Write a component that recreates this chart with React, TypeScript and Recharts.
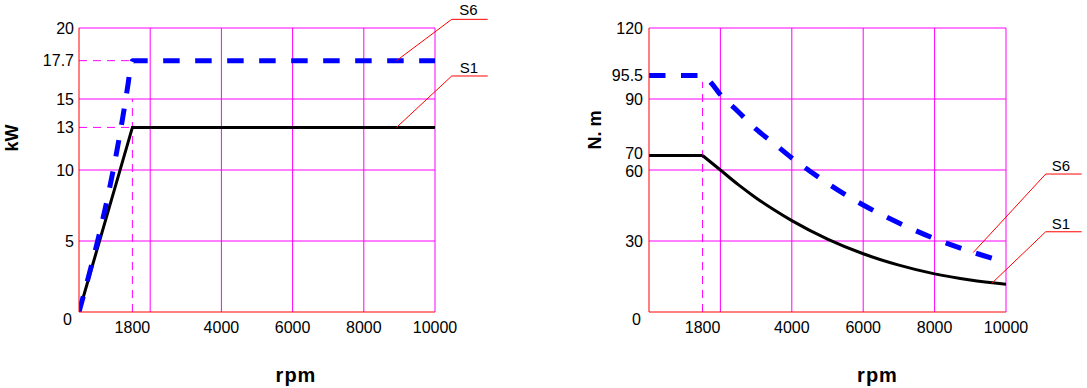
import React from 'react';
import { LineChart, Line, XAxis, YAxis, ReferenceLine, ReferenceDot } from 'recharts';

// ---------- data ----------
const rpmTicks = [1800, 4000, 6000, 8000, 10000];
const rpmGrid = [2000, 4000, 6000, 8000, 10000];

const powerTicks = [0, 5, 10, 13, 15, 17.7, 20];
const powerGrid = [5, 10, 15, 20];
const torqueTicks = [0, 30, 60, 70, 90, 95.5, 120];
const torqueGrid = [30, 60, 90, 120];

const powerS1Rpm = [0, 1800, 10000];
const powerS1Kw = [0, 13, 13];
const powerS6Rpm = [0, 1650, 1750, 1800, 10000];
const powerS6Kw = [0, 16, 17.4, 17.7, 17.7];

const torqueS1Rpm = [0, 1800, 2000, 2500, 3000, 3500, 4000, 5000, 6000, 7000, 8000, 9000, 10000];
const torqueS1Nm = [70, 70, 60, 53.8, 48.2, 43.2, 38.6, 30.8, 24.6, 19.8, 16.1, 13.5, 11.7];
const torqueS6Rpm = [0, 1800, 1900, 2000, 2500, 3000, 3500, 4000, 4500, 5000, 6000, 7000, 8000, 9000, 10000];
const torqueS6Nm = [95.5, 95.5, 93.7, 91, 85.5, 79.3, 74.3, 68.3, 59.6, 54.4, 45.2, 37.6, 31, 25.6, 21];

// axis break points (the reference axes are drawn piecewise)
const rpmBreaks = [0, 1800, 2000, 10000];
const rpmFracs = [0, 0.15, 0.2, 1];
const torqueBreaks = [0, 30, 60, 70, 90, 95.5, 120];
const torqueFracs = [0, 0.25, 0.5, 0.551, 0.75, 0.8327, 1];

// small per-label nudges of y tick texts (pixels), as placed in the reference
const tickNudge: Record<string, [number, number]> = {
  '0': [-2, 7],
  '70': [0, -2],
  '60': [0, 1],
};

const rows = (xs: number[], ys: number[]) => xs.map((x, i) => ({ x, y: ys[i] }));

// ---------- piecewise-linear d3-like scale ----------
function piecewiseScale(breaks: number[], fracs: number[]): any {
  let dom: number[] = [breaks[0], breaks[breaks.length - 1]];
  let rng: number[] = [0, 1];
  const n = breaks.length;
  const toFrac = (v: number) => {
    let i = 0;
    while (i < n - 2 && v > breaks[i + 1]) i++;
    const t = (v - breaks[i]) / (breaks[i + 1] - breaks[i]);
    return fracs[i] + t * (fracs[i + 1] - fracs[i]);
  };
  const fromFrac = (f: number) => {
    let i = 0;
    while (i < n - 2 && f > fracs[i + 1]) i++;
    const t = (f - fracs[i]) / (fracs[i + 1] - fracs[i]);
    return breaks[i] + t * (breaks[i + 1] - breaks[i]);
  };
  const scale: any = (v: any) => {
    const num = Number(v);
    if (!Number.isFinite(num)) return undefined;
    return rng[0] + toFrac(num) * (rng[1] - rng[0]);
  };
  scale.domain = (...args: any[]) => {
    if (!args.length) return dom.slice();
    dom = Array.from(args[0]);
    return scale;
  };
  scale.range = (...args: any[]) => {
    if (!args.length) return rng.slice();
    rng = Array.from(args[0]);
    return scale;
  };
  scale.invert = (px: number) => fromFrac((px - rng[0]) / (rng[1] - rng[0]));
  scale.copy = () => {
    const c = piecewiseScale(breaks, fracs);
    c.domain(dom);
    c.range(rng);
    return c;
  };
  scale.ticks = () => breaks.slice();
  scale.tickFormat = () => (d: any) => String(d);
  scale.nice = () => scale;
  scale.clamp = () => scale;
  scale.unknown = () => scale;
  return scale;
}

const rpmScaleA = piecewiseScale(rpmBreaks, rpmFracs);
const rpmScaleB = piecewiseScale(rpmBreaks, rpmFracs);
const torqueScale = piecewiseScale(torqueBreaks, torqueFracs);

// ---------- style ----------
const FONT = '"Liberation Sans", Arial, sans-serif';
const GRID = '#ff00ff';
const AXIS = '#ff0000';
const BLUE = '#0000ff';

const XTick = (props: any) => {
  const { x, y, payload } = props;
  return (
    <text x={x} y={y} dy="0.71em" textAnchor="middle" fontFamily={FONT} fontSize={16} fill="#000">
      {payload.value}
    </text>
  );
};

const YTick = (props: any) => {
  const { x, y, payload } = props;
  const [nx, ny] = tickNudge[String(payload.value)] || [0, 0];
  return (
    <text x={x + nx} y={y + ny} dy="0.35em" textAnchor="end" fontFamily={FONT} fontSize={16} fill="#000">
      {payload.value}
    </text>
  );
};

const vTitle = (text: string, dx: number, dy: number) => (p: any) => {
  const vb = p.viewBox || { x: 0, y: 0, width: 0, height: 0 };
  const cx = vb.x + dx;
  const cy = vb.y + vb.height / 2 + dy;
  return (
    <text
      x={cx}
      y={cy}
      transform={`rotate(-90 ${cx} ${cy})`}
      textAnchor="middle"
      dominantBaseline="central"
      fontFamily={FONT}
      fontSize={18}
      fontWeight="bold"
      fill="#000"
    >
      {text}
    </text>
  );
};

const hTitle = (text: string, dx: number, cyAbs: number) => (p: any) => {
  const vb = p.viewBox || { x: 0, y: 0, width: 0, height: 0 };
  return (
    <text
      x={vb.x + vb.width / 2 + dx}
      y={cyAbs}
      textAnchor="middle"
      dominantBaseline="central"
      fontFamily={FONT}
      fontSize={20}
      fontWeight="bold"
      letterSpacing={1}
      fill="#000"
    >
      {text}
    </text>
  );
};

const leader = (pts: [number, number][], key: string) =>
  pts.slice(1).map((p, i) => (
    <ReferenceLine
      key={`${key}-${i}`}
      segment={[
        { x: pts[i][0], y: pts[i][1] },
        { x: p[0], y: p[1] },
      ]}
      stroke={AXIS}
      strokeWidth={1}
      ifOverflow="visible"
    />
  ));

const tag = (x: number, y: number, text: string) => (
  <ReferenceDot
    key={`tag-${text}-${x}`}
    x={x}
    y={y}
    r={1}
    fill="none"
    stroke="none"
    ifOverflow="visible"
    label={{ value: text, position: 'center', fontSize: 15, fill: '#000', fontFamily: FONT }}
  />
);

export default function App() {
  const torqueS1All = rows(torqueS1Rpm, torqueS1Nm);
  return (
    <div style={{ position: 'absolute', left: 0, top: 0, width: 1087, height: 388, background: '#fff' }}>
      {/* Power chart */}
      <div style={{ position: 'absolute', left: 0, top: 0 }}>
        <LineChart width={540} height={388} margin={{ top: 28, right: 105, bottom: 46, left: 19 }}>
          <XAxis
            type="number"
            dataKey="x"
            domain={[0, 10000]}
            scale={rpmScaleA}
            ticks={rpmTicks}
            interval={0}
            height={30}
            axisLine={{ stroke: AXIS, strokeWidth: 1 }}
            tickLine={false}
            tickSize={6}
            tickMargin={4}
            tick={<XTick />}
            allowDataOverflow
            label={{ content: hTitle('rpm', 39, 375) }}
          />
          <YAxis
            type="number"
            domain={[0, 20]}
            ticks={powerTicks}
            interval={0}
            width={60}
            axisLine={{ stroke: AXIS, strokeWidth: 1 }}
            tickLine={false}
            tickSize={3}
            tickMargin={2}
            tick={<YTick />}
            allowDataOverflow
            label={{ content: vTitle('kW', -7, -32) }}
          />
          {rpmGrid.map((v) => (
            <ReferenceLine key={`gx${v}`} x={v} stroke={GRID} strokeWidth={1} />
          ))}
          {powerGrid.map((v) => (
            <ReferenceLine key={`gy${v}`} y={v} stroke={GRID} strokeWidth={1} />
          ))}
          <ReferenceLine segment={[{ x: 0, y: 17.7 }, { x: 1800, y: 17.7 }]} stroke={GRID} strokeDasharray="8 6" />
          <ReferenceLine segment={[{ x: 0, y: 13 }, { x: 1800, y: 13 }]} stroke={GRID} strokeDasharray="8 6" />
          <ReferenceLine segment={[{ x: 1800, y: 0 }, { x: 1800, y: 15 }]} stroke={GRID} strokeDasharray="8 6" />
          <Line
            data={rows(powerS1Rpm, powerS1Kw)}
            dataKey="y"
            type="linear"
            stroke="#000"
            strokeWidth={3}
            dot={false}
            isAnimationActive={false}
          />
          <Line
            data={rows(powerS6Rpm, powerS6Kw)}
            dataKey="y"
            type="monotone"
            stroke={BLUE}
            strokeWidth={5}
            strokeDasharray="16.5 15.5"
            dot={false}
            isAnimationActive={false}
          />
          {leader([[8920, 17.7], [10470, 20.61], [11480, 20.61]], 'p6')}
          {leader([[8920, 13], [10470, 16.62], [11480, 16.62]], 'p1')}
          {tag(10940, 21.27, 'S6')}
          {tag(10950, 17.2, 'S1')}
        </LineChart>
      </div>

      {/* Torque chart */}
      <div style={{ position: 'absolute', left: 540, top: 0 }}>
        <LineChart width={547} height={388} margin={{ top: 28, right: 81, bottom: 46, left: 49 }}>
          <XAxis
            type="number"
            dataKey="x"
            domain={[0, 10000]}
            scale={rpmScaleB}
            ticks={rpmTicks}
            interval={0}
            height={30}
            axisLine={{ stroke: AXIS, strokeWidth: 1 }}
            tickLine={false}
            tickSize={6}
            tickMargin={4}
            tick={<XTick />}
            allowDataOverflow
            label={{ content: hTitle('rpm', 50, 375) }}
          />
          <YAxis
            type="number"
            domain={[0, 120]}
            scale={torqueScale}
            ticks={torqueTicks}
            interval={0}
            width={60}
            axisLine={{ stroke: AXIS, strokeWidth: 1 }}
            tickLine={false}
            tickSize={3}
            tickMargin={3}
            tick={<YTick />}
            allowDataOverflow
            label={{ content: vTitle('N. m', 6, -40) }}
          />
          {rpmGrid.map((v) => (
            <ReferenceLine key={`gx${v}`} x={v} stroke={GRID} strokeWidth={1} />
          ))}
          {torqueGrid.map((v) => (
            <ReferenceLine key={`gy${v}`} y={v} stroke={GRID} strokeWidth={1} />
          ))}
          <ReferenceLine segment={[{ x: 1800, y: 0 }, { x: 1800, y: 94 }]} stroke={GRID} strokeDasharray="8 6" />
          {/* S1: constant-torque part, then the falling constant-power curve */}
          <Line
            data={torqueS1All.slice(0, 2)}
            dataKey="y"
            type="linear"
            stroke="#000"
            strokeWidth={3}
            dot={false}
            isAnimationActive={false}
          />
          <Line
            data={torqueS1All.slice(1)}
            dataKey="y"
            type="monotone"
            stroke="#000"
            strokeWidth={3}
            dot={false}
            isAnimationActive={false}
          />
          <Line
            data={rows(torqueS6Rpm, torqueS6Nm)}
            dataKey="y"
            type="monotone"
            stroke={BLUE}
            strokeWidth={5}
            strokeDasharray="16.5 15.5"
            dot={false}
            isAnimationActive={false}
          />
          {leader([[9080, 25.1], [11112, 58.3], [12120, 58.3]], 't6')}
          {leader([[9600, 12.1], [11112, 33.9], [12120, 33.9]], 't1')}
          {tag(11541, 63.1, 'S6')}
          {tag(11541, 37.4, 'S1')}
        </LineChart>
      </div>
    </div>
  );
}
